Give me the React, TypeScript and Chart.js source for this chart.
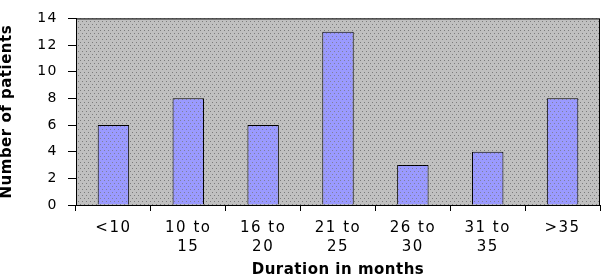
import { useEffect, useRef } from "react";
import { Chart, registerables } from "chart.js";

Chart.register(...registerables);

const categories: (string | string[])[] = [
  "<10",
  ["10 to", "15"],
  ["16 to", "20"],
  ["21 to", "25"],
  ["26 to", "30"],
  ["31 to", "35"],
  ">35",
];
const patients = [6, 8, 6, 13, 3, 4, 8];
const yTicks = [0, 2, 4, 6, 8, 10, 12, 14];
const xTitle = "Duration in months";
const yTitle = "Number of patients";

function makePattern(base: string, dot: string): CanvasPattern | string {
  const c = document.createElement("canvas");
  c.width = 8;
  c.height = 6;
  const g = c.getContext("2d");
  if (!g) return base;
  g.fillStyle = base;
  g.fillRect(0, 0, 8, 6);
  g.fillStyle = dot;
  [
    [0, 0],
    [4, 0],
    [2, 3],
    [6, 3],
  ].forEach(([x, y]) => g.fillRect(x, y, 1, 1));
  return g.createPattern(c, "repeat") || base;
}

export default function App() {
  const ref = useRef<HTMLCanvasElement>(null);

  useEffect(() => {
    if (!ref.current) return;
    const bgPattern = makePattern("#c0c0c0", "#7c7c7c");
    const barPattern = makePattern("#9a9aff", "#80809c");
    const tickSpacing = "1.5px";
    const titleSpacing = "0.5px";

    const plotPlugin = {
      id: "plotBg",
      beforeUpdate(chart: any) {
        chart.ctx.letterSpacing = tickSpacing;
      },
      afterLayout(chart: any) {
        Object.values(chart.scales).forEach((s: any) => {
          if (s.__wrapped) return;
          const orig = s.drawTitle;
          s.drawTitle = function (...args: any[]) {
            const ctx = this.ctx;
            ctx.letterSpacing = titleSpacing;
            orig.apply(this, args);
            ctx.letterSpacing = tickSpacing;
          };
          s.__wrapped = true;
        });
      },
      beforeDraw(chart: any) {
        const { ctx, chartArea } = chart;
        ctx.letterSpacing = tickSpacing;
        ctx.save();
        ctx.fillStyle = bgPattern;
        ctx.fillRect(
          chartArea.left,
          chartArea.top,
          chartArea.right - chartArea.left,
          chartArea.bottom - chartArea.top
        );
        ctx.restore();
      },
      afterDatasetsDraw(chart: any) {
        const { ctx, chartArea } = chart;
        ctx.save();
        ctx.strokeStyle = "#000";
        ctx.lineWidth = 1;
        ctx.strokeRect(
          chartArea.left + 0.5,
          chartArea.top + 0.5,
          chartArea.right - chartArea.left - 1,
          chartArea.bottom - chartArea.top
        );
        ctx.restore();
      },
    };

    Chart.defaults.font.family = "'DejaVu Sans', sans-serif";
    Chart.defaults.color = "#000";

    const chart = new Chart(ref.current, {
      type: "bar",
      data: {
        labels: categories,
        datasets: [
          {
            data: patients,
            backgroundColor: barPattern as any,
            borderColor: "#000",
            borderWidth: 1,
            barPercentage: 0.42,
            categoryPercentage: 1,
          },
        ],
      },
      options: {
        animation: false,
        responsive: false,
        devicePixelRatio: 1,
        layout: { padding: { top: 5, right: 1, left: 0, bottom: 0 } },
        plugins: {
          legend: { display: false },
          tooltip: { enabled: false },
        },
        scales: {
          x: {
            grid: {
              display: true,
              drawOnChartArea: false,
              drawTicks: true,
              tickLength: 6,
              color: "#000",
              offset: true,
            },
            border: { display: true, color: "#000", width: 1 },
            ticks: {
              font: { size: 15, lineHeight: 1.29 },
              padding: 7,
              maxRotation: 0,
              minRotation: 0,
              autoSkip: false,
              color: "#000",
            },
            title: {
              display: true,
              text: xTitle,
              font: { size: 15, weight: "bold", lineHeight: 1 },
              padding: { top: 0, bottom: 1 },
              color: "#000",
            },
            afterFit(scale: any) {
              scale.height = 74;
            },
          },
          y: {
            min: 0,
            max: 14,
            grid: {
              display: true,
              drawOnChartArea: false,
              drawTicks: true,
              tickLength: 8,
              color: "#000",
            },
            border: { display: true, color: "#000", width: 1 },
            ticks: {
              stepSize: 2,
              font: { size: 14 },
              padding: 10,
              color: "#000",
            },
            afterBuildTicks(scale: any) {
              scale.ticks = yTicks.map((v) => ({ value: v }));
            },
            title: {
              display: true,
              text: yTitle,
              font: { size: 15, weight: "bold", lineHeight: 1 },
              padding: { top: 0, bottom: 0 },
              color: "#000",
            },
            afterFit(scale: any) {
              scale.width = 76;
            },
          },
        },
      },
      plugins: [plotPlugin],
    });

    return () => chart.destroy();
  }, []);

  return (
    <div style={{ position: "absolute", left: 0, top: 0, width: 601, height: 279, background: "#fff" }}>
      <canvas ref={ref} width={601} height={279} style={{ display: "block" }} />
    </div>
  );
}
